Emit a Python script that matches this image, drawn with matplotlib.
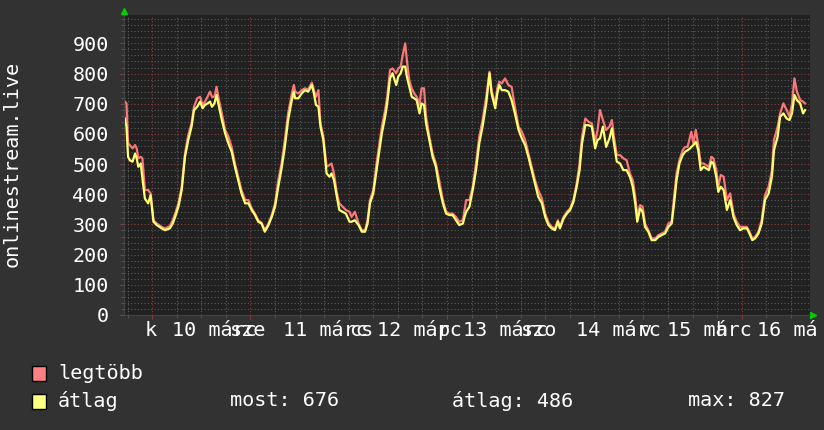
import matplotlib
matplotlib.use("Agg")
import matplotlib.pyplot as plt
from matplotlib.patches import Rectangle
from matplotlib.ticker import MultipleLocator, NullFormatter

# hours since 10 márc 00:00
hours = [
    -6.7, -6.3, -5.9, -5.5, -4.8, -4.2, -3.8, -3.4, -2.8, -2.4, -1.8, -1.0, -0.4,
    0.3, 1.1, 2.3, 3.1, 4.3, 5.0, 5.6, 6.4, 7.2, 8.0, 8.8, 9.6, 10.2, 11.0, 11.7,
    12.3, 12.9, 13.5, 14.1, 14.6, 15.2, 15.7, 16.3, 17.0, 17.8, 18.6, 19.4, 20.2,
    21.0, 21.8, 22.7, 23.5, 24.3, 25.1, 25.9, 26.7, 27.5, 28.4, 29.2, 30.0, 30.8,
    31.6, 32.4, 33.2, 34.1, 34.6,
    34.9, 35.7, 36.5, 37.3, 38.1, 39.0, 39.5, 40.0, 40.6, 41.1, 41.8, 42.6, 43.3,
    43.8, 44.4, 45.1, 45.7, 46.5, 47.3, 48.2, 48.7, 49.5, 50.4, 51.2, 52.0, 52.6,
    53.2, 54.0, 54.8, 55.5, 56.1, 56.9, 57.4, 58.1, 58.7, 59.6, 60.1, 60.7, 61.2,
    61.8, 62.2, 62.8, 63.4, 64.0, 64.6, 65.3, 65.8, 66.4, 66.9, 67.7, 68.5, 69.3,
    70.1, 71.0, 71.8, 72.6, 73.4, 74.2, 75.0, 75.9, 76.3,
    76.7, 77.5, 78.3, 79.1, 79.9, 80.7, 81.6, 82.4, 82.9, 83.8, 84.3, 84.8, 85.4,
    86.2, 87.0, 87.8, 88.6, 89.5, 90.3, 91.1, 91.9, 92.7, 93.5, 94.3, 95.2, 96.0,
    96.8, 97.6, 98.4, 99.1, 99.6, 100.5, 101.3, 102.1, 102.9, 103.7, 104.4, 105.0,
    105.8, 106.6, 107.4, 108.2, 108.8, 109.4, 110.1, 110.9, 111.7, 112.3, 112.8,
    113.5, 114.3, 115.1, 115.9,
    116.7, 117.4, 118.0, 118.5, 119.2, 119.8, 120.4, 121.2, 122.0, 122.9, 123.7,
    124.5, 125.3, 126.1, 126.9, 127.5, 128.1, 128.8, 129.6, 130.2, 130.8, 131.4,
    131.7, 132.2, 132.8, 133.4, 134.0, 134.7, 135.3, 136.0, 136.6, 137.1, 137.8,
    138.3, 138.9, 139.6, 140.4, 141.2, 142.0, 142.8, 143.6, 144.4, 145.3, 145.9,
    146.6, 147.3, 148.1, 148.9, 149.7, 150.6, 151.4, 151.9, 152.8, 153.4, 154.2,
    155.0, 155.7, 156.3, 156.9, 157.5, 158.3, 159.0, 159.5,
]

atlag = [
    651, 624, 524, 513, 508, 535, 519, 491, 502, 453, 386, 370, 397,
    309, 298, 287, 281, 287, 303, 325, 359, 414, 524, 580, 624, 679, 690, 707,
    685, 696, 701, 707, 690, 701, 729, 690, 646, 602, 569, 541, 491,
    447, 403, 370, 370, 348, 331, 309, 303, 276, 298, 325, 359, 425,
    486, 557, 646, 712, 740,
    718, 718, 734, 745, 740, 762, 734, 696, 690, 624, 580, 469, 458,
    469, 447, 392, 348, 342, 336, 309, 309, 314, 298, 276, 276, 303,
    370, 403, 480, 546, 602, 657, 701, 784, 801, 762, 790, 801, 823,
    823, 790, 756, 723, 718, 712, 668, 701, 696, 635, 580, 524, 491,
    425, 370, 336, 331, 331, 314, 298, 303, 325,
    342, 359, 414, 480, 569, 624, 701, 801, 734, 685, 734, 762, 745,
    745, 740, 712, 668, 613, 585, 563, 524, 480, 436, 392, 370, 325,
    298, 287, 281, 309, 287, 320, 336, 348, 375, 425, 480, 569,
    629, 629, 624, 552, 580, 585, 624, 557, 585, 618, 569,
    508, 502, 480, 480,
    458, 425, 370, 309, 353, 342, 292, 276, 248, 248, 259,
    265, 270, 292, 303, 370, 447, 502, 530, 541, 546, 552,
    557, 563, 574, 546, 480, 491, 486, 480, 508, 502, 458,
    408, 425, 414, 348, 381, 325, 298, 281, 287, 287, 270,
    248, 254, 270, 303, 381, 403, 458, 546, 591, 657, 668,
    651, 646, 668, 729, 712, 701, 668, 679,
]

legtobb = [
    707, 701, 569, 563, 552, 563, 552, 519, 524, 519, 414, 414, 403,
    314, 303, 292, 287, 294, 314, 336, 370, 425, 535, 596, 635, 690, 718, 723,
    696, 707, 723, 740, 723, 723, 756, 712, 668, 613, 591, 557, 502,
    458, 414, 381, 381, 353, 336, 314, 306, 281, 303, 331, 370, 447,
    502, 580, 668, 734, 762,
    740, 734, 745, 751, 747, 770, 745, 723, 745, 635, 591, 491, 497,
    502, 469, 403, 370, 359, 348, 342, 325, 342, 303, 281, 281, 314,
    381, 414, 502, 569, 624, 679, 723, 812, 817, 801, 817, 823, 861,
    900, 845, 778, 751, 734, 723, 696, 751, 751, 657, 591, 535, 502,
    447, 381, 342, 336, 336, 325, 309, 314, 348,
    381, 381, 425, 502, 591, 646, 723, 806, 745, 696, 751, 773, 767,
    784, 762, 756, 690, 624, 607, 580, 535, 491, 447, 414, 386, 336,
    306, 292, 287, 314, 292, 325, 342, 353, 381, 436, 502, 591,
    651, 640, 635, 574, 613, 679, 646, 613, 624, 646, 591,
    530, 530, 519, 513,
    469, 447, 392, 331, 364, 359, 303, 281, 254, 254, 265,
    270, 276, 303, 309, 392, 469, 513, 546, 557, 557, 591,
    607, 569, 613, 563, 502, 502, 497, 491, 524, 519, 480,
    425, 464, 458, 381, 403, 336, 309, 292, 292, 292, 276,
    254, 259, 276, 314, 397, 425, 480, 580, 624, 668, 701,
    679, 657, 701, 784, 740, 712, 707, 701,
]

day_labels = ["10 márc", "11 márc", "12 márc", "13 márc", "14 márc", "15 márc", "16 má"]
day_label_pos = [4.8, 31.9, 54.9, 75.9, 103.5, 125.8, 147.8]
weekday_labels = ["k", "sze", "cs", "p", "szo", "v", "h"]
weekday_pos = [-1.8, 19.0, 48.1, 69.6, 90.1, 118.9, 137.6]

bg = "#323232"
plot_bg = "#212121"
red = "#f87878"
yellow = "#ffff70"
txt = "#ffffff"
font = "DejaVu Sans Mono"
fs = 14.5

plt.rcParams["font.family"] = font

fig = plt.figure(figsize=(8.24, 4.30), dpi=100, facecolor=bg)
ax = fig.add_axes([124 / 824, 115 / 430, 686 / 824, 300 / 430])
ax.set_facecolor(plot_bg)

ax.set_xlim(-6.9, 160.7)
ax.set_ylim(0, 994)

ax.xaxis.set_major_locator(MultipleLocator(24))
ax.xaxis.set_minor_locator(MultipleLocator(6))
ax.yaxis.set_major_locator(MultipleLocator(100))
ax.yaxis.set_minor_locator(MultipleLocator(20))
ax.xaxis.set_major_formatter(NullFormatter())
ax.set_yticks(range(0, 1000, 100))

ax.grid(which="minor", color="#5c5c5c", linestyle=(0, (1, 2)), linewidth=0.8)
ax.grid(which="major", color="#8c3c3c", linestyle=(0, (1, 2)), linewidth=0.8)
ax.set_axisbelow(True)

ax.tick_params(axis="both", which="major", color="#8c3c3c", length=3, labelsize=fs, labelcolor=txt)
ax.tick_params(axis="both", which="minor", color="#5c5c5c", length=2)
ax.tick_params(axis="y", pad=8)

for s in ["top", "right"]:
    ax.spines[s].set_visible(False)
for s in ["left", "bottom"]:
    ax.spines[s].set_color("#444444")

ax.plot(hours, legtobb, color=red, linewidth=1.6)
ax.plot(hours, atlag, color=yellow, linewidth=1.6)

# axis arrows
ax.plot([0], [1.015], marker="^", color="#00d000", markersize=5, transform=ax.transAxes, clip_on=False)
ax.plot([1.0045], [0], marker=">", color="#00d000", markersize=5, transform=ax.transAxes, clip_on=False)

# x labels (overlapping as in the original rendering)
xt = ax.get_xaxis_transform()
for lab, pos in zip(day_labels, day_label_pos):
    ax.text(pos, -16 / 300, lab, transform=xt, ha="left", va="center", color=txt, fontsize=fs, clip_on=False)
for lab, pos in zip(weekday_labels, weekday_pos):
    ax.text(pos, -16 / 300, lab, transform=xt, ha="left", va="center", color=txt, fontsize=fs, clip_on=False)

fig.text(12 / 824, (430 - 164) / 430, "onlinestream.live", rotation=90, ha="center", va="center",
         color=txt, fontsize=fs)

# legend
fig.add_artist(Rectangle((32 / 824, 49 / 430), 14 / 824, 15 / 430, transform=fig.transFigure,
                         facecolor="#ff8080", edgecolor="black", linewidth=1))
fig.add_artist(Rectangle((32 / 824, 21 / 430), 14 / 824, 15 / 430, transform=fig.transFigure,
                         facecolor="#ffff80", edgecolor="black", linewidth=1))
fig.text(58 / 824, (430 - 373.5) / 430, "legtöbb", ha="left", va="center", color=txt, fontsize=fs)
fig.text(58 / 824, (430 - 401) / 430, "átlag", ha="left", va="center", color=txt, fontsize=fs)
fig.text(230 / 824, (430 - 401) / 430, "most: 676", ha="left", va="center", color=txt, fontsize=fs)
fig.text(452 / 824, (430 - 401) / 430, "átlag: 486", ha="left", va="center", color=txt, fontsize=fs)
fig.text(688 / 824, (430 - 401) / 430, "max: 827", ha="left", va="center", color=txt, fontsize=fs)

fig.savefig("out.png", dpi=100, facecolor=bg)
